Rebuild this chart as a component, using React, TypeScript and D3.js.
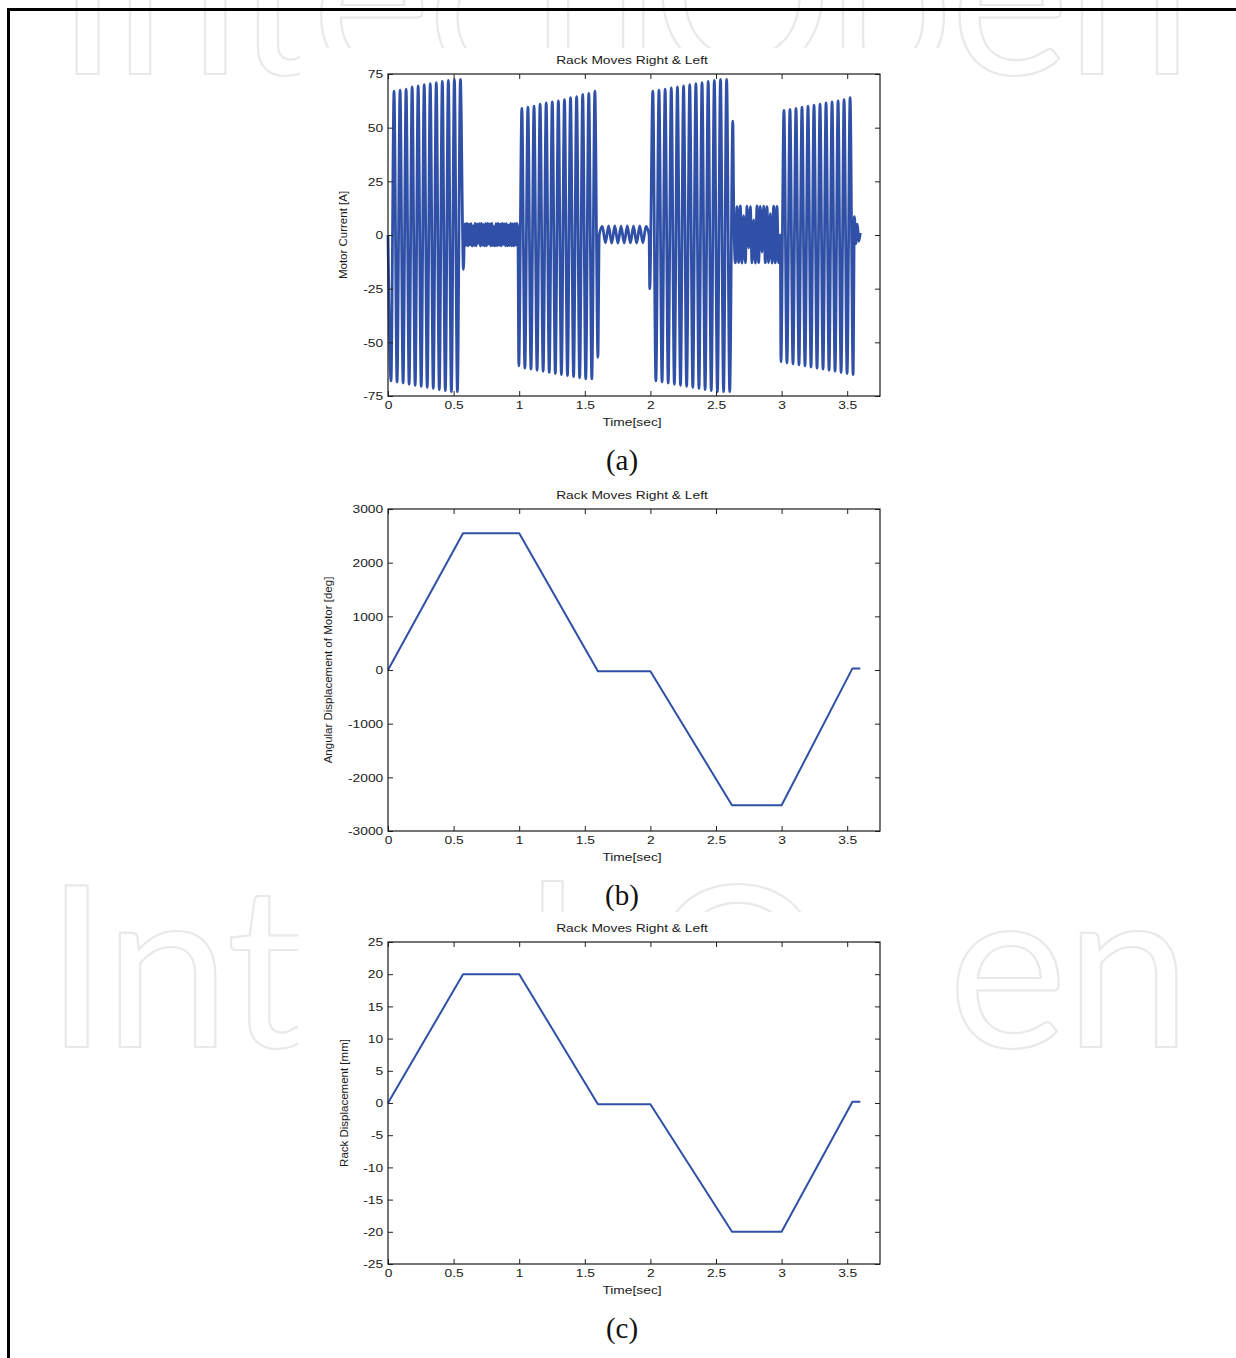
import React, { useEffect, useRef } from "react";
import * as d3 from "d3";

const TITLE = "Rack Moves Right & Left";
const X_LABEL = "Time[sec]";
const X_DOMAIN: [number, number] = [0, 3.75];
const X_TICKS = [0, 0.5, 1, 1.5, 2, 2.5, 3, 3.5];

const CURRENT_TICKS = [-75, -50, -25, 0, 25, 50, 75];
const ANGLE_TICKS = [-3000, -2000, -1000, 0, 1000, 2000, 3000];
const RACK_TICKS = [-25, -20, -15, -10, -5, 0, 5, 10, 15, 20, 25];

// motor current: turning points of each stretch, spread evenly over the stretch's span [s]
const cur1Span = [0, 0.575];
const cur1 = [0, -68, 67, -68.5, 67.5, -69, 68, -69.5, 69, -70, 69.5, -70.5, 70, -71, 70.5, -71.5, 71, -72, 71.5, -72.5, 72, -73, 72.5, -73, 72.5, -16];
const cur2Span = [0.585, 0.99];
const cur2 = [5.2, -4.8, 5.4, -5, 5, -4.6, 5.3, -5.1, 4.2, -4.9, 5.4, -5, 5.1, -3.8, 5.3, -5.1, 5.4, -4.7, 4.8, -5.1, 5.3, -5, 5.4, -4.2, 5.2, -5.1, 5.4, -4.9, 3.9, -5.1, 5.3, -5, 5.4, -4.8, 5.1, -5.1, 5.4, -4.4, 5.2, -5, 5.3, -5.1, 4.6, -4.9, 5.4, -5, 5.2, -5.1, 5.3, -4.7, 5.4, 3];
const cur3Span = [0.997, 1.6];
const cur3 = [-61, 59, -62, 59.5, -62.5, 60, -63, 61, -63.5, 61.5, -64, 62, -64.5, 62.5, -65, 63, -65.5, 64, -66, 64.5, -66.5, 65.5, -67, 66, -67, 67, -57];
const cur4Span = [1.61, 1.99];
const cur4 = [0, 4, -3.6, 4.2, -3.8, 4.2, -3.8, 4.1, -3.8, 4.2, -3.7, 4.1, -3.8, 4.2, -3.6, 4, 0];
const cur5Span = [1.995, 2.628];
const cur5 = [-25, 67, -68, 67.5, -68.5, 68, -69, 68.5, -69.5, 69, -70, 69.5, -70.5, 70, -71, 70.5, -71.5, 71, -72, 71.5, -72.5, 72, -73, 72.5, -73, 72.5, -73, 53];
const cur6Span = [2.635, 2.99];
const cur6 = [13.5, -13, 13.2, -12.8, 13.5, -13.1, 9, -13, 13.4, -6, 13.2, -13, 7, -13.1, 13.5, -12.9, 13.3, -8, 13.4, -13, 13.2, -12.8, 10, -13.1, 13.4, -13, 13.3, -12.9, 0];
const cur7Span = [2.995, 3.545];
const cur7 = [-59, 58, -59.5, 58.5, -60, 59, -60.5, 59.5, -61, 60, -61.5, 60.5, -62, 61, -62.5, 61.5, -63, 62, -63.5, 62.5, -64, 63, -64.5, 64, -65];
const cur8Span = [3.555, 3.6];
const cur8 = [8.5, -4, 5, -3, 1];

const currentSpans = [cur1Span, cur2Span, cur3Span, cur4Span, cur5Span, cur6Span, cur7Span, cur8Span];
const currentRuns = [cur1, cur2, cur3, cur4, cur5, cur6, cur7, cur8];

// displacement profile break points
const profileTimes = [0, 0.572, 1.0, 1.6, 2.0, 2.622, 3.0, 3.54, 3.6];
const angleDeg = [0, 2550, 2550, -25, -25, -2520, -2520, 30, 30];
const rackMm = [0, 20, 20, -0.2, -0.2, -20, -20, 0.2, 0.2];

const currentPoints: [number, number][] = currentRuns.flatMap((vals, k) => {
    const [a, b] = currentSpans[k];
    return vals.map((v, i) => [a + (i * (b - a)) / (vals.length - 1), v] as [number, number]);
});
const anglePoints: [number, number][] = profileTimes.map((t, i) => [t, angleDeg[i]]);
const rackPoints: [number, number][] = profileTimes.map((t, i) => [t, rackMm[i]]);

const LEFT = 388;
const RIGHT = 880;
const PLOT_H = 322;
const BLUE = "#2f50a6";
const SANS = "'Liberation Sans', Arial, Helvetica, sans-serif";
const plain = (d: any) => String(d); // keeps the ascii hyphen for negatives

function Panel(props: any) {
    const ref = useRef<SVGGElement>(null);
    const { top, yDomain, yTicks, yLabel, yLabelX, caption, points, curve, lineWidth } = props;

    useEffect(() => {
        const g = d3.select(ref.current);
        g.selectAll("*").remove();
        const bottom = top + PLOT_H;
        const x = d3.scaleLinear().domain(X_DOMAIN).range([LEFT, RIGHT]);
        const y = d3.scaleLinear().domain(yDomain).range([bottom, top]);

        g.append("rect")
            .attr("x", LEFT).attr("y", top)
            .attr("width", RIGHT - LEFT).attr("height", PLOT_H)
            .attr("fill", "#fff");

        const line = d3.line<[number, number]>()
            .x(d => x(d[0]))
            .y(d => y(d[1]))
            .curve(curve);

        g.append("path")
            .datum(points)
            .attr("d", line)
            .attr("fill", "none")
            .attr("stroke", BLUE)
            .attr("stroke-width", lineWidth)
            .attr("stroke-linejoin", "round");

        const styleAxis = (sel: any) => {
            sel.select(".domain").remove();
            sel.selectAll("line").attr("stroke", "#222").attr("stroke-width", 1);
            sel.selectAll("text")
                .attr("font-family", SANS)
                .attr("font-size", 11.5)
                .attr("fill", "#1a1a1a")
                .attr("transform", "scale(1.2,1)");
        };

        g.append("g").attr("transform", `translate(0,${bottom})`)
            .call(d3.axisBottom(x).tickValues(X_TICKS).tickSize(-5).tickPadding(5).tickFormat(plain))
            .call(styleAxis);
        g.append("g").attr("transform", `translate(0,${top})`)
            .call(d3.axisTop(x).tickValues(X_TICKS).tickSize(-5).tickFormat(() => ""))
            .call(styleAxis);
        g.append("g").attr("transform", `translate(${LEFT},0)`)
            .call(d3.axisLeft(y).tickValues(yTicks).tickSize(-5).tickPadding(4).tickFormat(plain))
            .call(styleAxis);
        g.append("g").attr("transform", `translate(${RIGHT},0)`)
            .call(d3.axisRight(y).tickValues(yTicks).tickSize(-5).tickFormat(() => ""))
            .call(styleAxis);

        g.append("rect")
            .attr("x", LEFT).attr("y", top)
            .attr("width", RIGHT - LEFT).attr("height", PLOT_H)
            .attr("fill", "none").attr("stroke", "#1a1a1a").attr("stroke-width", 1.2);

        const mid = (LEFT + RIGHT) / 2 - 2;
        g.append("text")
            .attr("transform", `translate(${mid},${top - 10}) scale(1.2,1)`)
            .attr("text-anchor", "middle")
            .attr("font-family", SANS).attr("font-size", 11.5).attr("fill", "#1a1a1a")
            .text(TITLE);
        g.append("text")
            .attr("transform", `translate(${mid},${bottom + 30}) scale(1.2,1)`)
            .attr("text-anchor", "middle")
            .attr("font-family", SANS).attr("font-size", 11.5).attr("fill", "#1a1a1a")
            .text(X_LABEL);
        g.append("text")
            .attr("transform", `translate(${yLabelX},${(top + bottom) / 2}) rotate(-90)`)
            .attr("text-anchor", "middle")
            .attr("dominant-baseline", "central")
            .attr("font-family", SANS).attr("font-size", 11.5).attr("fill", "#1a1a1a")
            .text(yLabel);
        g.append("text")
            .attr("x", 622).attr("y", bottom + 74)
            .attr("text-anchor", "middle")
            .attr("font-family", "'Liberation Serif', 'DejaVu Serif', serif")
            .attr("font-size", 29).attr("fill", "#111")
            .text(caption);
    }, []);

    return <g ref={ref} />;
}

export default function App() {
    const mark = {
        fontFamily: "Lato, 'Open Sans', sans-serif",
        fontSize: 226,
        fill: "#fff",
        stroke: "#e9e9e9",
        strokeWidth: 2.2,
    };
    return (
        <div style={{ position: "absolute", left: 0, top: 0 }}>
            <svg width={1236} height={1358} style={{ display: "block", background: "#fff" }}>
                <text x={56} y={74} textLength={1136} lengthAdjust="spacing" {...mark}>IntechOpen</text>
                <text x={45} y={1047} textLength={1146} lengthAdjust="spacing" {...mark}>IntechOpen</text>
                <rect x={300} y={48} width={645} height={40} fill="#fff" />
                <rect x={298} y={912} width={644} height={160} fill="#fff" />
                <path d="M8.5,1358 V9.5 H1236" fill="none" stroke="#000" strokeWidth={3} />
                <Panel top={74} yDomain={[-75, 75]} yTicks={CURRENT_TICKS} yLabel="Motor Current [A]" yLabelX={343}
                    caption="(a)" points={currentPoints} curve={d3.curveMonotoneX} lineWidth={2.8} />
                <Panel top={509} yDomain={[-3000, 3000]} yTicks={ANGLE_TICKS} yLabel="Angular Displacement of Motor [deg]" yLabelX={328}
                    caption="(b)" points={anglePoints} curve={d3.curveLinear} lineWidth={2} />
                <Panel top={942} yDomain={[-25, 25]} yTicks={RACK_TICKS} yLabel="Rack Displacement [mm]" yLabelX={344}
                    caption="(c)" points={rackPoints} curve={d3.curveLinear} lineWidth={2} />
            </svg>
        </div>
    );
}
